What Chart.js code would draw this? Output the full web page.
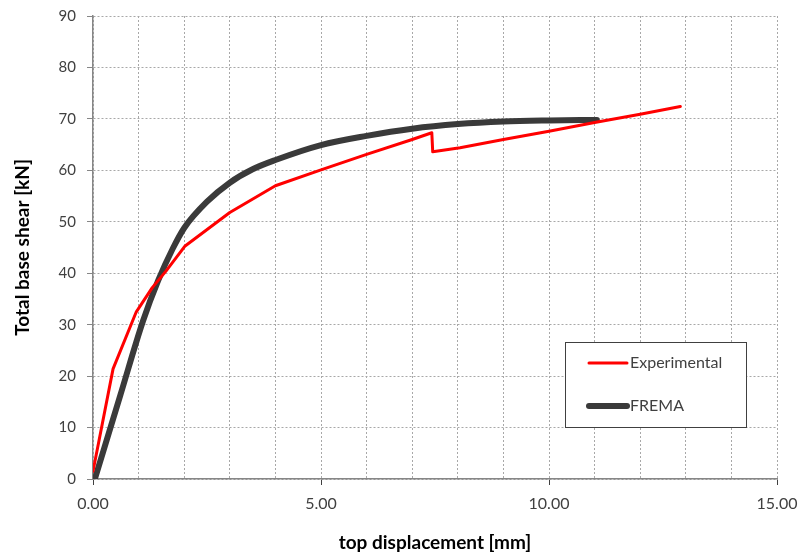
<!DOCTYPE html>
<html>
<head>
<meta charset="utf-8">
<title>Pushover curve</title>
<script src="https://cdn.jsdelivr.net/npm/chart.js@4"></script>
<style>
  html, body { margin: 0; padding: 0; background: #fff; }
</style>
</head>
<body>
<canvas id="pushChart" width="803" height="554"></canvas>
<script>
// Experimental curve (top displacement mm, base shear kN)
var expX = [0, 0.44, 0.95, 1.3, 1.6, 2.02, 3, 4, 5, 6, 7, 7.43, 7.45, 8.05, 9, 10, 11, 12, 12.88];
var expY = [1.5, 21.4, 32.5, 37.2, 40.4, 45.3, 51.8, 57, 60.1, 63.1, 66, 67.3, 63.6, 64.4, 66, 67.6, 69.3, 70.9, 72.4];

// FREMA model curve
var fremaX = [0.04, 0.6, 1.1, 1.43, 1.75, 2, 2.5, 3, 3.5, 4, 5, 6, 7, 8, 9, 10, 11.05];
var fremaY = [0, 16.3, 30.8, 38.6, 44.8, 48.8, 53.9, 57.6, 60.2, 62, 64.9, 66.7, 68.1, 69, 69.5, 69.7, 69.8];

var seriesNames = ["Experimental", "FREMA"];
var xTickEvery = 5;

function toPoints(xs, ys){
    var pts = [];
    xs.forEach(function(x, i){
        pts.push({x: x, y: ys[i]});
    });
    return pts;
}

var axisColor = "#868686";
var gridColor = "#a8a8a8";
var textColor = "#404040";

// legend drawn as a boxed panel inside the plot
var legendPanel = {
    id: "legendPanel",
    afterDraw: function(chart){
        var c = chart.ctx;
        c.save();
        c.fillStyle = "#fff";
        c.fillRect(565.5, 342.5, 181, 85);
        c.strokeStyle = "#404040";
        c.lineWidth = 1;
        c.strokeRect(565.5, 342.5, 181, 85);
        chart.data.datasets.forEach(function(ds, i){
            var y = 363 + i * 43;
            c.beginPath();
            c.lineCap = "round";
            c.strokeStyle = ds.borderColor;
            c.lineWidth = ds.borderWidth;
            c.moveTo(589, y);
            c.lineTo(627, y);
            c.stroke();
            c.fillStyle = textColor;
            c.font = "16px Lato";
            c.textBaseline = "middle";
            c.fillText(ds.label, 630, y);
        });
        c.restore();
    }
};

var chart = {
    type: "line",
    data: {
        datasets: [{
            label: seriesNames[0],
            data: toPoints(expX, expY),
            borderColor: "#ff0000",
            borderWidth: 3,
            pointRadius: 0,
            tension: 0,
            borderJoinStyle: "round",
            borderCapStyle: "round"
        }, {
            label: seriesNames[1],
            data: toPoints(fremaX, fremaY),
            borderColor: "#3a3a3a",
            borderWidth: 6,
            pointRadius: 0,
            cubicInterpolationMode: "monotone",
            borderCapStyle: "round"
        }]
    },
    options: {
        responsive: false,
        animation: false,
        layout: {padding: {top: 16, right: 26, left: 0, bottom: 0}},
        plugins: {
            legend: {display: false},
            tooltip: {enabled: false}
        },
        scales: {
            x: {
                type: "linear",
                min: 0,
                max: 15,
                afterFit: function(s){
                    s.height = 75;
                    s.paddingLeft = 0;
                    s.paddingRight = 0;
                },
                ticks: {
                    stepSize: 1,
                    autoSkip: false,
                    maxRotation: 0,
                    padding: 9,
                    color: textColor,
                    font: {family: "Lato", size: 16},
                    callback: function(v){ return v % xTickEvery === 0 ? v.toFixed(2) : ""; }
                },
                grid: {
                    color: gridColor,
                    lineWidth: 1,
                    tickLength: 6,
                    tickColor: function(ctx){
                        return ctx.tick && ctx.tick.value % xTickEvery === 0 ? "#404040" : "rgba(0,0,0,0)";
                    }
                },
                border: {color: axisColor, width: 1.5, dash: [2, 2]},
                title: {
                    display: true,
                    text: "top displacement [mm]",
                    color: "#000",
                    font: {family: "Lato", size: 19, weight: "bold"},
                    padding: {top: 3, bottom: 0}
                }
            },
            y: {
                min: 0,
                max: 90,
                afterFit: function(s){
                    s.width = 93;
                    s.paddingTop = 0;
                    s.paddingBottom = 0;
                },
                ticks: {
                    stepSize: 10,
                    padding: 11,
                    color: textColor,
                    font: {family: "Lato", size: 15}
                },
                grid: {
                    color: gridColor,
                    lineWidth: 1,
                    tickLength: 6,
                    tickColor: axisColor
                },
                border: {color: axisColor, width: 1.5, dash: [2, 2]},
                title: {
                    display: true,
                    text: "Total base shear [kN]",
                    color: "#000",
                    font: {family: "Lato", size: 19, weight: "bold"},
                    padding: {top: 11, bottom: 0}
                }
            }
        }
    },
    plugins: [legendPanel]
};

new Chart("pushChart", chart);
</script>
</body>
</html>
